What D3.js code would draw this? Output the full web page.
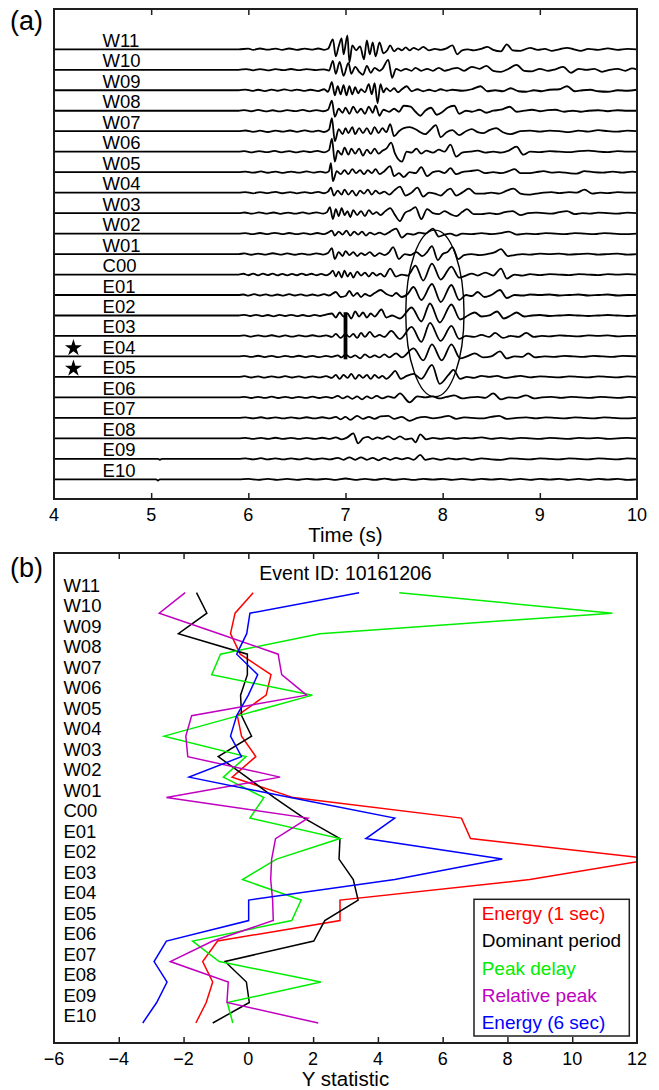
<!DOCTYPE html>
<html><head><meta charset="utf-8">
<script src="https://cdn.jsdelivr.net/npm/d3@7/dist/d3.min.js"></script>
<style>
html,body{margin:0;padding:0;background:#fff;}
svg{display:block;font-family:"Liberation Sans",Arial,Helvetica,sans-serif;}
</style></head><body>
<svg id="chart" width="659" height="1090"></svg>
<script>
// ---------------- DATA ----------------
const stations = ["W11","W10","W09","W08","W07","W06","W05","W04","W03","W02","W01","C00","E01","E02","E03","E04","E05","E06","E07","E08","E09","E10"];
const timeTicks = [4,5,6,7,8,9,10];
const statTicks = [-6,-4,-2,0,2,4,6,8,10,12];
const starredStations = ["E04","E05"];
const eventId = "10161206";

// panel (b) series, one value per station (W11 ... E10)
const energy1 = [0.15,-0.41,-0.55,-0.25,0.70,0.55,-0.34,-0.21,0.23,-0.50,1.39,6.58,6.86,12.5,8.69,2.83,2.83,-0.95,-1.41,-1.10,-1.30,-1.62];
const domPeriod = [-1.60,-1.28,-2.16,-0.03,-0.03,-0.24,-0.21,0.10,-0.93,-0.05,0.80,1.72,2.83,2.80,3.24,3.39,2.36,2.02,-0.72,-0.06,0.03,-1.10];
const peakDelay = [4.66,11.24,2.21,-0.86,-1.13,1.98,-0.30,-2.60,-0.07,-0.77,0.48,0.05,2.83,0.87,-0.18,1.63,1.34,-1.72,-0.90,2.24,-0.65,-0.48];
const relPeak = [-1.95,-2.75,-0.90,0.92,1.03,1.80,-1.75,-1.93,-1.87,0.98,-2.53,1.84,0.84,0.72,0.69,0.75,0.77,-1.10,-2.41,-0.62,-0.66,2.16];
const energy6 = [3.42,0.05,-0.05,-0.36,0.29,0.00,-0.36,-0.55,-0.21,-1.83,1.30,4.52,3.63,7.84,4.52,0.01,0.01,-2.53,-2.91,-2.51,-2.83,-3.26];
const seriesNames = ["Energy (1 sec)","Dominant period","Peak delay","Relative peak","Energy (6 sec)"];
const seriesColors = ["#ff0000","#000000","#00ee00","#c000c0","#0000ff"];

// panel (a) annotation values (time in s, station-row units)
const markTime = 7.0, markRows = [12.84, 15.14];
const ellipseTime = 7.92, ellipseHalfWidth = 0.30, ellipseRow = 12.9, ellipseHalfRows = 4.07;

// panel (a) waveforms: [time (s), amplitude]
const trW11 = [[4,0],[5.9,0],[6.0,0.6],[6.05,-0.5],[6.12,0.8],[6.2,-0.4],[6.28,0.7],[6.35,-0.6],[6.42,0.8],[6.5,-0.5],[6.58,0.6],[6.65,-0.3],[6.72,0.8],[6.78,-0.5],[6.82,0.5],[6.87,10],[6.9,-7],[6.93,3],[6.96,11],[6.98,-5],[7.02,14],[7.04,-13],[7.07,4],[7.11,-1],[7.15,3],[7.19,-10],[7.22,9],[7.25,-5],[7.28,7],[7.31,-7],[7.35,7],[7.39,-4],[7.43,-1],[7.46,4],[7.5,-2],[7.54,1],[7.58,-1],[7.62,2],[7.66,-1],[7.7,1.5],[7.75,-0.5],[7.8,2.5],[7.86,-1],[7.92,0.5],[7.98,-0.5],[8.04,1],[8.1,4],[8.15,-5],[8.2,-1],[8.26,0],[8.32,-1],[8.4,0.5],[8.46,2.5],[8.52,-0.5],[8.6,-2],[8.66,5],[8.72,-1],[8.8,-1.5],[8.9,1.5],[8.98,-0.5],[9.05,0.5],[9.12,-1.5],[9.2,0],[9.28,1.5],[9.35,0],[9.42,-1.5],[9.5,0.5],[9.6,-0.5],[9.7,1],[9.8,-0.5],[9.9,0.5],[10,0]];
const trW10 = [[4,0],[5.9,0],[5.98,0.6],[6.05,-0.5],[6.12,0.7],[6.2,-0.6],[6.28,0.6],[6.36,-0.4],[6.44,0.8],[6.52,-0.4],[6.6,0.7],[6.7,-0.3],[6.78,0.5],[6.83,-0.8],[6.87,9],[6.9,-4],[6.94,8],[6.98,-6],[7.03,7],[7.06,-4],[7.1,3],[7.14,-2],[7.18,-5],[7.22,4],[7.26,-3],[7.3,2],[7.35,-1],[7.38,1],[7.44,10],[7.48,-8],[7.52,1],[7.57,-1],[7.62,1],[7.68,-1],[7.72,2],[7.78,-1],[7.84,1],[7.9,-1],[7.96,2],[8.02,-1],[8.08,0.5],[8.15,2],[8.22,-1],[8.3,3],[8.38,1],[8.45,4],[8.52,-1],[8.6,-2],[8.68,1],[8.76,5],[8.84,-1],[8.92,-1.5],[9.0,1],[9.08,-1],[9.16,0.5],[9.24,3],[9.32,-3],[9.4,1],[9.48,0],[9.56,1],[9.64,-2],[9.72,0],[9.8,1],[9.88,-1],[9.95,1.5],[10,0]];
const trW09 = [[4,0],[5.9,0],[5.97,0.7],[6.04,-0.6],[6.1,0.5],[6.17,-0.8],[6.24,0.6],[6.3,-0.5],[6.37,0.9],[6.44,-0.4],[6.5,0.7],[6.57,-0.6],[6.64,0.5],[6.72,-0.8],[6.78,1],[6.82,-1.5],[6.86,8],[6.89,-5],[6.92,4],[6.95,-4],[6.98,5],[7.01,-5],[7.04,4],[7.07,-4],[7.1,3],[7.13,-3],[7.16,1],[7.2,-2],[7.24,6],[7.27,-4],[7.3,7],[7.33,-13],[7.36,6],[7.39,-2],[7.42,2],[7.46,-1],[7.5,2],[7.54,-2],[7.58,1],[7.63,4],[7.68,-1],[7.74,1],[7.8,-1],[7.86,0.5],[7.92,-1],[7.98,1],[8.04,-0.5],[8.1,0.5],[8.2,-0.5],[8.3,1],[8.39,4],[8.46,-1],[8.54,0],[8.62,-1],[8.7,2],[8.78,-1],[8.86,-1.5],[8.94,0],[9.02,-1],[9.1,0.5],[9.2,1],[9.28,4],[9.36,-1],[9.44,0],[9.52,0.5],[9.6,-1],[9.7,-1.5],[9.8,0],[9.9,-0.5],[10,0.5]];
const trW08 = [[4,0],[5.9,0],[5.96,0.6],[6.03,-0.5],[6.1,0.8],[6.18,-0.6],[6.25,0.5],[6.32,-0.7],[6.4,0.6],[6.48,-0.4],[6.56,0.8],[6.63,-0.6],[6.7,0.7],[6.77,-0.5],[6.82,1],[6.86,10],[6.89,-6],[6.93,2],[6.97,-2],[7.0,3],[7.04,-3],[7.08,4],[7.12,-2],[7.16,2],[7.2,-3],[7.24,4],[7.28,-2],[7.31,5],[7.35,-5],[7.39,1],[7.45,-1],[7.5,2],[7.55,-1],[7.6,5],[7.67,4],[7.72,-1],[7.77,-5],[7.82,0],[7.88,3],[7.94,-4],[8.0,-1],[8.05,3],[8.12,5],[8.17,-3],[8.24,0],[8.3,-1],[8.38,1],[8.45,-2],[8.52,0],[8.6,1],[8.69,4],[8.76,-1],[8.84,0],[8.92,1],[9.0,-0.5],[9.08,0.5],[9.16,1],[9.25,-1],[9.34,0],[9.42,-1],[9.5,0],[9.6,0.5],[9.7,-0.5],[9.8,0.5],[9.9,0],[10,0]];
const trW07 = [[4,0],[5.9,0],[5.97,0.7],[6.05,-0.6],[6.12,0.5],[6.2,-0.8],[6.28,0.6],[6.35,-0.4],[6.43,0.7],[6.5,-0.6],[6.58,0.8],[6.66,-0.5],[6.72,0.6],[6.78,-0.8],[6.83,1.5],[6.86,13],[6.89,-10],[6.93,2],[6.97,-3],[7.0,3],[7.03,-2],[7.07,4],[7.1,-3],[7.14,3],[7.18,-2],[7.22,3],[7.26,-3],[7.3,4],[7.34,-2],[7.38,3],[7.42,-1],[7.46,7],[7.5,-5],[7.55,0],[7.6,3],[7.66,4],[7.72,2],[7.77,-1],[7.82,-3],[7.87,1],[7.93,6],[7.98,-6],[8.04,-1],[8.1,1],[8.17,-4],[8.24,0],[8.3,2],[8.36,-1],[8.42,-2],[8.48,1],[8.55,3],[8.62,-1],[8.7,-3],[8.8,0],[8.9,0.5],[9.0,-0.5],[9.1,0.5],[9.2,0],[9.3,-1],[9.4,0.5],[9.5,-0.5],[9.6,1],[9.7,0],[9.8,-0.5],[9.9,0.5],[10,0]];
const trW06 = [[4,0],[5.9,0],[5.96,0.5],[6.04,-0.7],[6.11,0.6],[6.19,-0.5],[6.27,0.8],[6.34,-0.6],[6.42,0.5],[6.5,-0.7],[6.57,0.6],[6.64,-0.4],[6.71,0.8],[6.78,-0.6],[6.83,1.5],[6.86,13],[6.89,-10],[6.92,1],[6.96,-3],[6.99,4],[7.03,-3],[7.06,3],[7.1,-2],[7.14,3],[7.18,-4],[7.22,2],[7.26,-2],[7.3,3],[7.34,-2],[7.38,1],[7.42,3],[7.47,9],[7.51,-2],[7.58,-10],[7.63,0],[7.68,-1],[7.73,3],[7.78,-2],[7.83,1],[7.9,-1],[7.96,2],[8.02,0],[8.08,7],[8.14,-5],[8.2,-1],[8.28,0],[8.36,1],[8.44,-1],[8.52,0],[8.6,-1],[8.68,1],[8.76,5],[8.83,-3],[8.9,0],[9.0,-0.5],[9.1,0.5],[9.2,0],[9.3,-0.5],[9.4,0.5],[9.5,1],[9.6,0],[9.7,-0.5],[9.8,0.5],[9.9,0],[10,0]];
const trW05 = [[4,0],[5.9,0],[5.97,0.6],[6.05,-0.5],[6.13,0.7],[6.2,-0.6],[6.28,0.5],[6.36,-0.7],[6.44,0.6],[6.52,-0.5],[6.6,0.8],[6.67,-0.5],[6.74,0.6],[6.8,-0.5],[6.83,1],[6.85,9],[6.87,-9],[6.91,1],[6.95,-2],[6.99,2],[7.03,-2],[7.07,3],[7.11,-1],[7.15,2],[7.19,-2],[7.23,2],[7.27,-1],[7.31,3],[7.35,-2],[7.4,1],[7.46,6],[7.5,-4],[7.55,-1],[7.6,-5],[7.66,0],[7.72,-1],[7.78,5],[7.84,-4],[7.9,0],[7.96,1],[8.02,-1],[8.08,4],[8.14,-2],[8.2,0],[8.28,1],[8.36,2],[8.44,-1],[8.52,0],[8.6,-1],[8.68,1],[8.74,3],[8.8,-1],[8.88,-1],[8.96,0],[9.04,1],[9.12,-0.5],[9.2,0],[9.3,-1],[9.38,-1.5],[9.46,1],[9.55,0],[9.65,-0.5],[9.75,0.5],[9.85,-0.5],[9.95,0.5],[10,0]];
const trW04 = [[4,0],[5.9,0],[5.97,0.5],[6.05,-0.7],[6.12,0.6],[6.2,-0.5],[6.28,0.8],[6.35,-0.6],[6.43,0.5],[6.5,-0.7],[6.58,0.6],[6.65,-0.5],[6.72,0.8],[6.78,-0.6],[6.82,1],[6.85,5],[6.88,-3],[6.92,2],[6.96,-2],[6.99,3],[7.03,-2],[7.07,2],[7.11,-3],[7.15,2],[7.19,-1],[7.23,3],[7.27,-2],[7.31,2],[7.35,-1],[7.4,1],[7.45,-2],[7.5,2],[7.56,6],[7.62,-3],[7.68,0],[7.74,5],[7.8,-4],[7.86,0],[7.92,-1],[7.98,-3],[8.04,2],[8.08,4],[8.14,-3],[8.2,0],[8.27,4],[8.34,-1],[8.42,-1],[8.5,0],[8.58,-1],[8.66,2],[8.73,4],[8.8,-1],[8.88,-2],[8.96,-1],[9.04,0],[9.12,0.5],[9.2,-0.5],[9.3,0.5],[9.38,0],[9.46,3],[9.54,-1],[9.62,0],[9.7,-0.5],[9.8,0.5],[9.9,0],[10,0]];
const trW03 = [[4,0],[5.9,0],[5.96,0.6],[6.04,-0.6],[6.11,0.8],[6.18,-0.5],[6.26,0.6],[6.33,-0.7],[6.41,0.5],[6.48,-0.6],[6.56,0.7],[6.63,-0.5],[6.7,0.8],[6.77,-0.6],[6.81,1],[6.84,6],[6.87,-6],[6.9,4],[6.93,-3],[6.96,5],[6.99,-2],[7.02,2],[7.05,-4],[7.08,3],[7.12,-2],[7.16,2],[7.2,-3],[7.24,3],[7.28,-1],[7.32,1],[7.36,-2],[7.41,2],[7.46,5],[7.51,-2],[7.56,-8],[7.61,0],[7.67,3],[7.72,6],[7.78,-6],[7.84,4],[7.9,0],[7.96,-1],[8.02,2],[8.08,-1],[8.14,-3],[8.2,1],[8.25,4],[8.32,-1],[8.4,-1],[8.48,0],[8.56,-1],[8.64,1],[8.72,2],[8.8,-2],[8.88,0],[8.96,0.5],[9.04,0],[9.12,-0.5],[9.2,1],[9.28,2],[9.36,-1],[9.44,0],[9.52,-0.5],[9.6,0.5],[9.7,0],[9.8,-0.5],[9.9,0.5],[10,0]];
const trW02 = [[4,0],[5.9,0],[5.97,0.5],[6.04,-0.6],[6.12,0.6],[6.2,-0.5],[6.27,0.7],[6.35,-0.5],[6.42,0.6],[6.5,-0.6],[6.57,0.5],[6.64,-0.7],[6.71,0.6],[6.78,-0.5],[6.82,1],[6.86,3],[6.89,-2],[6.93,2],[6.97,-1],[7.01,3],[7.05,-2],[7.09,2],[7.13,-1],[7.17,2],[7.21,-2],[7.25,1],[7.3,-1],[7.35,1],[7.4,-1],[7.46,2],[7.52,5],[7.58,-4],[7.64,0],[7.7,-1],[7.76,1],[7.82,0],[7.9,5],[7.96,-3],[8.02,-1],[8.08,0],[8.14,-2],[8.2,0],[8.3,-0.5],[8.4,0.5],[8.5,-0.5],[8.6,0.5],[8.68,2],[8.76,-1],[8.86,0],[8.96,-0.5],[9.06,0.5],[9.16,0],[9.26,-0.5],[9.36,0.5],[9.46,0],[9.56,-0.5],[9.66,0.5],[9.76,0],[9.86,-0.5],[10,0]];
const trW01 = [[4,0],[5.9,0],[5.96,0.6],[6.03,-0.7],[6.1,0.5],[6.18,-0.6],[6.25,0.8],[6.33,-0.5],[6.4,0.6],[6.48,-0.7],[6.55,0.5],[6.62,-0.6],[6.7,0.7],[6.77,-0.5],[6.82,1],[6.86,6],[6.89,-5],[6.93,2],[6.97,-2],[7.0,3],[7.04,-1],[7.08,2],[7.12,-2],[7.16,1],[7.2,-1],[7.25,2],[7.3,-2],[7.35,1],[7.4,-1],[7.45,2],[7.49,7],[7.55,-5],[7.61,0],[7.67,-1],[7.73,2],[7.79,-2],[7.84,2],[7.89,8],[7.95,-6],[8.0,0],[8.05,2],[8.1,7],[8.16,-5],[8.22,-1],[8.3,0],[8.38,-1],[8.46,0],[8.54,2],[8.6,5],[8.67,-2],[8.74,-1],[8.82,0],[8.9,-0.5],[9.0,0.5],[9.1,0],[9.2,0.5],[9.3,-0.5],[9.4,0],[9.5,0.5],[9.6,-0.5],[9.7,0],[9.8,0.5],[9.9,-0.5],[10,0]];
const trC00 = [[4,0],[5.9,0],[5.95,0.8],[6.0,-0.7],[6.05,1],[6.1,-0.8],[6.15,0.9],[6.2,-0.6],[6.25,1],[6.3,-0.9],[6.35,0.7],[6.4,-0.8],[6.45,0.6],[6.5,-0.7],[6.55,1],[6.6,-0.6],[6.65,0.8],[6.7,-0.7],[6.75,0.6],[6.8,-0.9],[6.84,1],[6.87,4],[6.9,-2],[6.93,3],[6.96,-3],[6.99,4],[7.02,-2],[7.05,2],[7.08,-3],[7.12,3],[7.16,-1],[7.2,2],[7.24,-2],[7.28,2],[7.32,-1],[7.36,1],[7.4,-2],[7.46,6],[7.52,-2],[7.58,0],[7.64,-1],[7.72,9],[7.8,-6],[7.89,11],[7.98,-5],[8.09,8],[8.17,-3],[8.24,-1],[8.3,1],[8.36,-1],[8.44,2],[8.52,-1],[8.6,6],[8.66,-4],[8.74,0],[8.82,-1],[8.9,0.5],[9.0,-0.5],[9.1,0.5],[9.2,0],[9.3,-0.5],[9.4,0.5],[9.5,0],[9.6,-0.5],[9.7,0.5],[9.8,0],[9.9,0.5],[10,0]];
const trE01 = [[4,0],[5.9,0],[5.95,0.5],[6.0,-0.6],[6.06,0.8],[6.12,-0.5],[6.18,0.6],[6.24,-0.7],[6.3,0.5],[6.36,-0.6],[6.42,0.8],[6.48,-0.5],[6.54,0.6],[6.6,-0.7],[6.66,0.5],[6.72,-0.6],[6.78,0.8],[6.83,-0.5],[6.9,3],[6.95,-2],[7.0,-1],[7.04,4],[7.08,-1],[7.12,2],[7.16,-2],[7.2,1],[7.25,-1],[7.3,2],[7.36,5],[7.42,1],[7.48,-1],[7.52,2],[7.58,-2],[7.64,1],[7.7,8],[7.78,-5],[7.89,11],[7.98,-7],[8.09,10],[8.17,-5],[8.24,0],[8.3,-1],[8.36,3],[8.43,-2],[8.5,0],[8.59,5],[8.66,-3],[8.74,0],[8.82,-0.5],[8.9,0.5],[9.0,0],[9.1,0.5],[9.2,-0.5],[9.3,0],[9.4,0.5],[9.5,-0.5],[9.6,0],[9.7,0.5],[9.8,-0.5],[9.9,0],[10,0]];
const trE02 = [[4,0],[5.9,0],[5.96,0.6],[6.02,-0.5],[6.08,0.7],[6.14,-0.6],[6.2,0.5],[6.26,-0.8],[6.32,0.6],[6.38,-0.5],[6.44,0.7],[6.5,-0.6],[6.56,0.5],[6.62,-0.7],[6.68,0.6],[6.74,-0.5],[6.8,0.8],[6.86,2],[6.9,-2],[6.94,3],[6.98,-1],[7.02,2],[7.06,-3],[7.1,4],[7.14,-1],[7.18,3],[7.22,-2],[7.26,2],[7.3,-1],[7.37,6],[7.42,-2],[7.48,0],[7.56,-3],[7.68,8],[7.78,-6],[7.87,12],[7.97,-7],[8.09,11],[8.18,-4],[8.26,0],[8.33,3],[8.4,-1],[8.48,0],[8.56,4],[8.63,-3],[8.7,0],[8.76,3],[8.84,-1],[8.92,0],[9.0,0.5],[9.1,-0.5],[9.2,0],[9.3,0.5],[9.4,0],[9.5,-0.5],[9.6,0],[9.7,0.5],[9.8,0],[9.9,-0.5],[10,0]];
const trE03 = [[4,0],[5.9,0],[5.96,0.5],[6.03,-0.6],[6.1,0.6],[6.17,-0.5],[6.24,0.7],[6.31,-0.6],[6.38,0.5],[6.45,-0.7],[6.52,0.6],[6.59,-0.5],[6.66,0.7],[6.73,-0.5],[6.8,0.6],[6.86,-1],[6.9,2],[6.95,-2],[7.0,2],[7.04,-1],[7.08,2],[7.12,-2],[7.16,3],[7.2,-1],[7.25,4],[7.3,-1],[7.35,1],[7.4,-1],[7.47,5],[7.56,-3],[7.68,9],[7.78,-6],[7.87,13],[7.98,-5],[8.09,10],[8.17,-3],[8.24,0],[8.32,-1],[8.4,1],[8.48,-1],[8.54,3],[8.62,-2],[8.7,0],[8.78,-1],[8.86,3],[8.94,-1],[9.02,0],[9.1,-0.5],[9.2,0.5],[9.3,0],[9.4,-0.5],[9.5,0.5],[9.6,0],[9.7,0.5],[9.8,-0.5],[9.9,0],[10,0]];
const trE04 = [[4,0],[5.9,0],[5.96,0.6],[6.03,-0.5],[6.1,0.7],[6.17,-0.6],[6.24,0.5],[6.31,-0.7],[6.38,0.6],[6.45,-0.5],[6.52,0.7],[6.59,-0.6],[6.66,0.5],[6.73,-0.7],[6.8,0.6],[6.86,-0.5],[6.92,1],[6.96,-1],[7.0,2],[7.05,-1],[7.1,1],[7.15,-2],[7.2,2],[7.25,-1],[7.3,1],[7.35,-1],[7.4,2],[7.45,-1],[7.52,3],[7.58,-1],[7.7,8],[7.8,-4],[7.89,12],[7.99,-4],[8.09,12],[8.18,-2],[8.25,0],[8.33,3],[8.42,-1],[8.5,0],[8.59,5],[8.66,-2],[8.74,0],[8.82,-0.5],[8.88,3],[8.95,-1],[9.05,0],[9.15,-0.5],[9.25,0.5],[9.35,0],[9.45,-0.5],[9.55,0.5],[9.65,0],[9.75,-0.5],[9.85,0.5],[10,0]];
const trE05 = [[4,0],[5.9,0],[5.96,0.7],[6.03,-0.6],[6.1,0.5],[6.17,-0.7],[6.24,0.6],[6.31,-0.5],[6.38,0.8],[6.45,-0.6],[6.52,0.5],[6.59,-0.7],[6.66,0.6],[6.73,-0.5],[6.8,0.7],[6.86,-1],[6.9,2],[6.94,-2],[6.98,2],[7.02,-1],[7.06,3],[7.1,-2],[7.14,2],[7.18,-1],[7.22,2],[7.26,-2],[7.3,2],[7.34,-1],[7.38,1],[7.42,-2],[7.47,2],[7.51,6],[7.57,-2],[7.63,1],[7.7,3],[7.78,-2],[7.89,12],[7.97,-7],[8.06,2],[8.11,7],[8.18,-2],[8.25,0],[8.32,-1],[8.4,1],[8.48,0],[8.56,1],[8.64,-1],[8.72,0],[8.8,1],[8.9,-0.5],[9.0,0.5],[9.1,0],[9.2,-0.5],[9.3,0.5],[9.4,0],[9.5,-0.5],[9.6,0.5],[9.7,0],[9.8,-0.5],[9.9,0.5],[10,0]];
const trE06 = [[4,0],[5.9,0],[5.96,0.5],[6.03,-0.6],[6.1,0.6],[6.17,-0.5],[6.24,0.7],[6.31,-0.6],[6.38,0.5],[6.45,-0.7],[6.52,0.6],[6.59,-0.5],[6.66,0.7],[6.73,-0.6],[6.8,0.5],[6.86,-0.6],[6.92,1.5],[6.97,-1],[7.02,1],[7.07,-1.5],[7.12,1],[7.17,-2],[7.22,1],[7.27,-1],[7.32,1.5],[7.38,-1],[7.44,1],[7.5,-0.5],[7.56,4],[7.66,-5],[7.74,1],[7.82,0],[7.9,1],[7.96,-1],[8.04,0.5],[8.12,2],[8.2,-1],[8.28,0],[8.36,0.5],[8.44,-0.5],[8.52,4],[8.6,-2],[8.68,0],[8.76,-0.5],[8.86,2],[8.94,-1],[9.02,0],[9.12,0.5],[9.22,-0.5],[9.32,0.5],[9.42,0],[9.52,-0.5],[9.62,0.5],[9.72,0],[9.82,-0.5],[9.92,0.5],[10,0]];
const trE07 = [[4,0],[5.9,0],[5.97,0.5],[6.05,-0.5],[6.13,0.6],[6.2,-0.5],[6.28,0.5],[6.36,-0.6],[6.44,0.5],[6.52,-0.5],[6.6,0.6],[6.68,-0.5],[6.76,0.6],[6.84,-0.5],[6.9,1],[6.95,-1.5],[7.0,1],[7.05,-2],[7.12,2],[7.18,-1],[7.24,1],[7.3,-1],[7.36,1.5],[7.44,2],[7.5,-1],[7.58,1],[7.66,-3],[7.74,0],[7.82,1],[7.9,-0.5],[7.98,0.5],[8.06,2],[8.14,-1],[8.22,0.5],[8.3,0],[8.4,-0.5],[8.5,1],[8.58,2],[8.66,-1],[8.76,0],[8.86,0.5],[8.96,-0.5],[9.06,0.5],[9.16,0],[9.26,-0.5],[9.36,0.5],[9.46,0],[9.56,-0.5],[9.66,0.5],[9.76,0],[9.86,-0.5],[10,0]];
const trE08 = [[4,0],[5.9,0],[5.97,0.5],[6.05,-0.6],[6.13,0.5],[6.2,-0.5],[6.28,0.6],[6.36,-0.5],[6.44,0.5],[6.52,-0.6],[6.6,0.5],[6.68,-0.5],[6.76,0.6],[6.84,-0.5],[6.9,1],[6.96,-1],[7.02,1],[7.08,5],[7.13,-5],[7.18,0],[7.23,1.5],[7.28,-1],[7.33,1],[7.38,-0.5],[7.44,2],[7.5,-1],[7.56,2],[7.62,-1],[7.68,0],[7.72,-4],[7.77,4],[7.83,-1],[7.9,0.5],[7.98,-0.5],[8.06,0.5],[8.14,-0.5],[8.22,0.5],[8.3,0],[8.4,1],[8.5,-0.5],[8.6,0.5],[8.7,-0.5],[8.8,0.5],[8.9,0],[9.0,-0.5],[9.1,0.5],[9.2,0],[9.3,-0.5],[9.4,0.5],[9.5,0],[9.6,0.5],[9.7,-0.5],[9.8,0],[9.9,0.5],[10,0]];
const trE09 = [[4,0],[5.07,0],[5.09,-1],[5.11,0],[5.9,0],[5.97,0.5],[6.05,-0.5],[6.13,0.6],[6.2,-0.5],[6.28,0.5],[6.36,-0.6],[6.44,0.5],[6.52,-0.5],[6.6,0.6],[6.68,-0.5],[6.76,0.5],[6.84,-0.6],[6.92,1],[6.98,-1],[7.04,1.5],[7.1,-1],[7.16,1.5],[7.22,-1],[7.28,1],[7.34,-1.5],[7.4,1],[7.46,-1],[7.52,1],[7.58,-0.5],[7.64,1],[7.7,-1],[7.77,4],[7.82,-1],[7.9,0.5],[7.98,-1],[8.06,0.5],[8.14,-0.5],[8.22,0.5],[8.3,-1],[8.4,0.5],[8.5,-0.5],[8.6,-1],[8.7,0.5],[8.8,0],[8.9,-0.5],[9.0,0.5],[9.1,0],[9.2,-0.5],[9.3,0.5],[9.4,0],[9.5,-0.5],[9.6,0.5],[9.7,0],[9.8,-0.5],[9.9,0.5],[10,0]];
const trE10 = [[4,0],[5.05,0],[5.07,-1.2],[5.09,0],[5.9,0],[6.0,0.5],[6.1,-0.5],[6.2,0.5],[6.3,-0.5],[6.4,0.4],[6.5,-0.5],[6.6,0.5],[6.7,-0.4],[6.8,0.5],[6.9,-0.6],[7.0,0.8],[7.1,-0.6],[7.2,0.5],[7.3,-0.5],[7.4,0.6],[7.5,-0.5],[7.6,0.5],[7.7,-0.6],[7.8,0.5],[7.9,-0.4],[8.0,0.5],[8.1,-0.5],[8.2,0.4],[8.3,-0.5],[8.4,0.5],[8.5,-0.4],[8.6,0.5],[8.7,-0.5],[8.8,0.4],[8.9,-0.5],[9.0,0.5],[9.1,-0.4],[9.2,0.5],[9.3,-0.5],[9.4,0.4],[9.5,-0.5],[9.6,0.5],[9.7,-0.4],[9.8,0.5],[9.9,-0.5],[10,0]];
const traces = [trW11,trW10,trW09,trW08,trW07,trW06,trW05,trW04,trW03,trW02,trW01,trC00,trE01,trE02,trE03,trE04,trE05,trE06,trE07,trE08,trE09,trE10];

// ---------------- DRAW ----------------
const svg = d3.select("#chart");
const FONT_TICK = 18, FONT_LAB = 18.5, FONT_TITLE = 20.5, FONT_PANEL = 27;
const frameColor = "#1e1e1e";

function frameAndAxes(g, x, top, bottom, left, right, ticks, title) {
  const inner = ticks.slice(1, -1);
  g.append("g").attr("transform", `translate(0,${bottom})`)
    .call(d3.axisBottom(x).tickValues(inner).tickSize(-6).tickFormat(""))
    .call(s => s.select(".domain").remove())
    .call(s => s.selectAll("line").attr("stroke", frameColor).attr("stroke-width", 1.5));
  g.append("g").attr("transform", `translate(0,${top})`)
    .call(d3.axisTop(x).tickValues(inner).tickSize(-6).tickFormat(""))
    .call(s => s.select(".domain").remove())
    .call(s => s.selectAll("line").attr("stroke", frameColor).attr("stroke-width", 1.5));
  g.append("g").selectAll("text").data(ticks).join("text")
    .attr("x", d => x(d)).attr("y", bottom + 21.5)
    .attr("text-anchor", "middle").attr("font-size", FONT_TICK)
    .text(d => d3.format("d")(d));
  g.append("text").attr("x", (left + right) / 2).attr("y", bottom + 43)
    .attr("text-anchor", "middle").attr("font-size", FONT_TITLE).text(title);
  g.append("rect").attr("x", left).attr("y", top).attr("width", right - left).attr("height", bottom - top)
    .attr("fill", "none").attr("stroke", frameColor).attr("stroke-width", 2);
}

// ---------- Panel (a) ----------
const A = {left: 54, right: 637, top: 9, bottom: 499};
const xa = d3.scaleLinear().domain([4, 10]).range([A.left, A.right]);
const rowA = d3.scaleLinear().domain([0, stations.length - 1]).range([49.3, 479.3]);
const amp = d3.scaleLinear().domain([0, 1]).range([0, -1]);
const ga = svg.append("g");

ga.append("defs").append("clipPath").attr("id", "clipA").append("rect")
  .attr("x", A.left).attr("y", A.top).attr("width", A.right - A.left).attr("height", A.bottom - A.top);

const tracesG = ga.append("g").attr("clip-path", "url(#clipA)");
traces.forEach((tr, i) => {
  const line = d3.line().x(d => xa(d[0])).y(d => rowA(i) + amp(d[1])).curve(d3.curveMonotoneX);
  tracesG.append("path").attr("d", line(tr)).attr("fill", "none")
    .attr("stroke", "#000").attr("stroke-width", 1.8).attr("stroke-linejoin", "round");
});

ga.append("g").selectAll("text").data(stations).join("text")
  .attr("x", xa(4.5)).attr("y", (d, i) => rowA(i) - 2.5)
  .attr("font-size", FONT_LAB).text(d => d);

ga.append("g").selectAll("path").data(starredStations).join("path")
  .attr("d", d3.symbol(d3.symbolStar, 90))
  .attr("transform", d => `translate(${xa(4.2)},${rowA(stations.indexOf(d)) - 8.5})`)
  .attr("fill", "#000");

ga.append("line").attr("x1", xa(markTime)).attr("x2", xa(markTime))
  .attr("y1", rowA(markRows[0])).attr("y2", rowA(markRows[1]))
  .attr("stroke", "#000").attr("stroke-width", 3.8);

ga.append("ellipse").attr("cx", xa(ellipseTime)).attr("cy", rowA(ellipseRow))
  .attr("rx", xa(ellipseTime + ellipseHalfWidth) - xa(ellipseTime))
  .attr("ry", rowA(ellipseRow + ellipseHalfRows) - rowA(ellipseRow))
  .attr("fill", "none").attr("stroke", "#000").attr("stroke-width", 1.4);

frameAndAxes(ga, xa, A.top, A.bottom, A.left, A.right, timeTicks, "Time (s)");
ga.append("text").attr("x", 10).attr("y", 30).attr("font-size", FONT_PANEL).text("(a)");

// ---------- Panel (b) ----------
const B = {left: 54, right: 637, top: 553, bottom: 1043};
const xb = d3.scaleLinear().domain([-6, 12]).range([B.left, B.right]);
const rowB = d3.scaleLinear().domain([0, stations.length - 1]).range([592.7, 1023]);
const gb = svg.append("g");
gb.append("defs").append("clipPath").attr("id", "clipB").append("rect")
  .attr("x", B.left).attr("y", B.top).attr("width", B.right - B.left).attr("height", B.bottom - B.top);

gb.append("g").selectAll("text").data(stations).join("text")
  .attr("x", xb(-5.71)).attr("y", (d, i) => rowB(i) - 1)
  .attr("font-size", FONT_LAB).text(d => d);

const allSeries = [energy1, domPeriod, peakDelay, relPeak, energy6];
const lineB = d3.line().x(d => xb(d)).y((d, i) => rowB(i));
const linesG = gb.append("g").attr("clip-path", "url(#clipB)");
allSeries.forEach((s, k) => {
  linesG.append("path").attr("d", lineB(s)).attr("fill", "none")
    .attr("stroke", seriesColors[k]).attr("stroke-width", 1.5);
});

gb.append("text").attr("x", (B.left + B.right) / 2).attr("y", 579.5)
  .attr("text-anchor", "middle").attr("font-size", 19.5).text("Event ID: " + eventId);

// legend
const legW = 155.3, legH = 136.7;
const legX = B.right - 7.7 - legW, legY = B.bottom - 7 - legH;
const leg = gb.append("g");
leg.append("rect").attr("x", legX).attr("y", legY).attr("width", legW).attr("height", legH)
  .attr("fill", "#fff").attr("stroke", frameColor).attr("stroke-width", 1.5);
leg.selectAll("text").data(seriesNames).join("text")
  .attr("x", legX + 7.7).attr("y", (d, i) => legY + 20.7 + i * 27.3)
  .attr("font-size", 19).attr("fill", (d, i) => seriesColors[i]).text(d => d);

frameAndAxes(gb, xb, B.top, B.bottom, B.left, B.right, statTicks, "Y statistic");
gb.append("text").attr("x", 10).attr("y", 576.5).attr("font-size", FONT_PANEL).text("(b)");
</script>
</body></html>
